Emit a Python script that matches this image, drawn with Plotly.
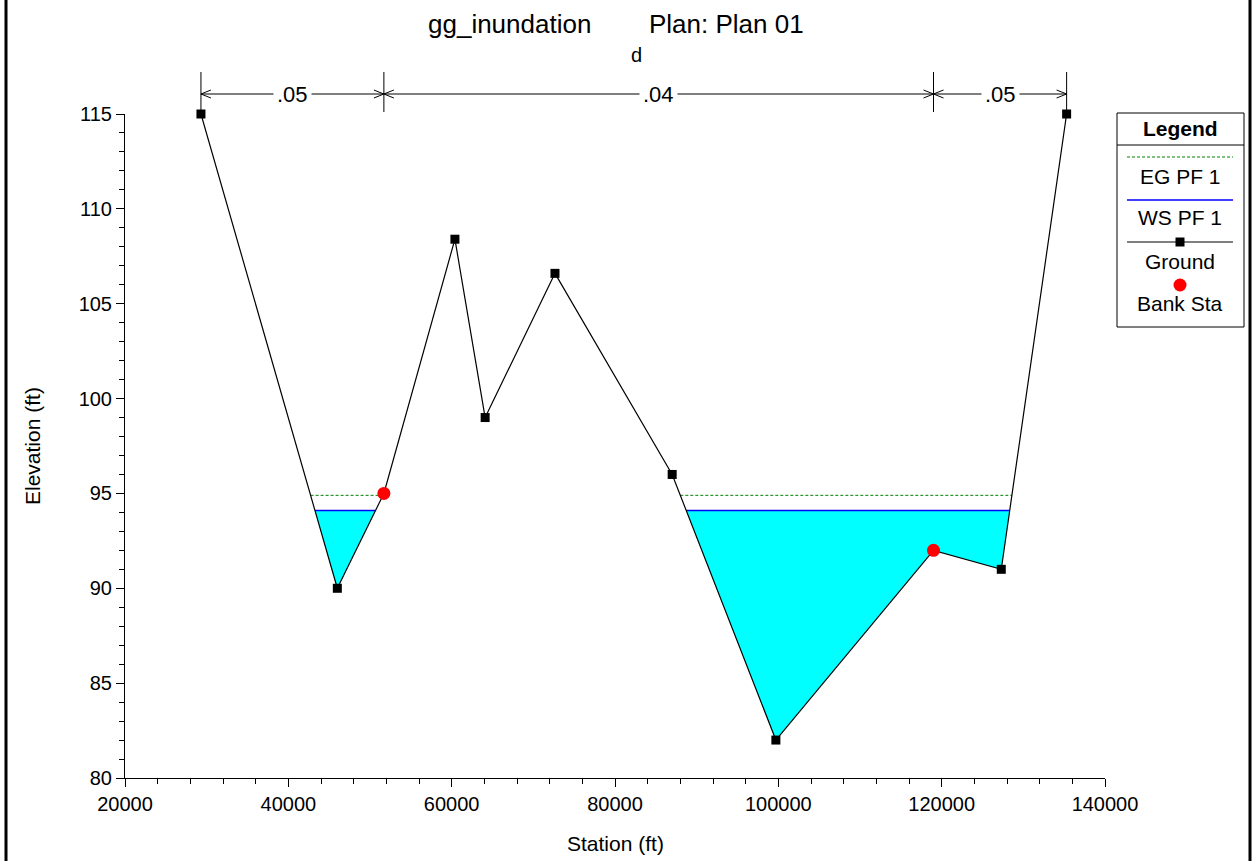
import plotly.graph_objects as go

# ---------------- data ----------------
stations = [29300, 46000, 51700, 60400, 64100, 72650, 87000, 99700, 119000, 127300, 135300]
elevations = [115, 90, 95, 108.4, 99, 106.6, 96, 82, 92, 91, 115]
bank_idx = [2, 8]
ws_elev = 94.1
eg_elev = 94.9
n_values = [".05", ".04", ".05"]
n_breaks = [29300, 51700, 119000, 135300]
x_range = [20000, 140000]
y_range = [80, 115]

FONT = "Liberation Sans, Arial, sans-serif"
W, H = 1255, 861
L, R, T, B = 125, 1105, 114, 778


def px(x):
    return (x - L) / (R - L)


def py(y):
    return (B - y) / (B - T)


def crossings(xs, zs, level):
    out = []
    for i in range(len(xs) - 1):
        z0, z1 = zs[i], zs[i + 1]
        if (z0 - level) * (z1 - level) < 0:
            t = (level - z0) / (z1 - z0)
            out.append(xs[i] + t * (xs[i + 1] - xs[i]))
    return out


def level_line(level):
    c = crossings(stations, elevations, level)
    lx, ly = [], []
    for a, b in zip(c[0::2], c[1::2]):
        lx += [a, b, None]
        ly += [level, level, None]
    return lx, ly, c


fig = go.Figure()

# water fill
_, _, wc = level_line(ws_elev)
fx, fy = [], []
for a, b in zip(wc[0::2], wc[1::2]):
    fx += [a] + [s for s in stations if a < s < b] + [b, a, None]
    fy += [ws_elev] + [e for s, e in zip(stations, elevations) if a < s < b] + [ws_elev, ws_elev, None]
fig.add_trace(go.Scatter(x=fx, y=fy, mode="none", fill="toself", fillcolor="#00FFFF",
                         hoverinfo="skip", showlegend=False))

egx, egy, _ = level_line(eg_elev)
fig.add_trace(go.Scatter(x=egx, y=egy, mode="lines", name="EG PF 1",
                         line=dict(color="#008000", width=1, dash="3px,2px"), showlegend=False))
wsx, wsy, _ = level_line(ws_elev)
fig.add_trace(go.Scatter(x=wsx, y=wsy, mode="lines", name="WS PF 1",
                         line=dict(color="#0000FF", width=1.5), showlegend=False))
fig.add_trace(go.Scatter(x=stations, y=elevations, mode="lines+markers", name="Ground",
                         line=dict(color="black", width=1.2), cliponaxis=False,
                         marker=dict(symbol="square", size=9, color="black"), showlegend=False))
fig.add_trace(go.Scatter(x=[stations[i] for i in bank_idx], y=[elevations[i] for i in bank_idx],
                         mode="markers", name="Bank Sta", cliponaxis=False,
                         marker=dict(symbol="circle", size=13, color="#FF0000"), showlegend=False))

shapes = []
annotations = []

# Manning's n bar
y_bar = py(94)
for s in n_breaks:
    shapes.append(dict(type="line", xref="x", yref="paper", x0=s, x1=s, y0=py(112), y1=py(72),
                       line=dict(color="black", width=1)))
shapes.append(dict(type="line", xref="x", yref="paper", x0=n_breaks[0], x1=n_breaks[-1],
                   y0=y_bar, y1=y_bar, line=dict(color="black", width=1)))
for i, s in enumerate(n_breaks):
    if i > 0:
        shapes.append(dict(type="path", xref="x", yref="paper", xsizemode="pixel", ysizemode="pixel",
                           xanchor=s, yanchor=y_bar, path="M -10,4 L 0,0 L -10,-4",
                           line=dict(color="black", width=1)))
    if i < len(n_breaks) - 1:
        shapes.append(dict(type="path", xref="x", yref="paper", xsizemode="pixel", ysizemode="pixel",
                           xanchor=s, yanchor=y_bar, path="M 10,4 L 0,0 L 10,-4",
                           line=dict(color="black", width=1)))
for i, n in enumerate(n_values):
    annotations.append(dict(text=n, xref="x", yref="paper", x=(n_breaks[i] + n_breaks[i + 1]) / 2,
                            y=y_bar, xanchor="center", yanchor="middle", showarrow=False,
                            bgcolor="white", borderpad=3,
                            font=dict(family=FONT, size=22, color="black")))

# titles
annotations.append(dict(text="gg_inundation", xref="paper", yref="paper", x=px(593), y=py(24),
                        xanchor="right", yanchor="middle", showarrow=False,
                        font=dict(family=FONT, size=26, color="black")))
annotations.append(dict(text="Plan: Plan 01", xref="paper", yref="paper", x=px(647), y=py(24),
                        xanchor="left", yanchor="middle", showarrow=False,
                        font=dict(family=FONT, size=26, color="black")))
annotations.append(dict(text="d", xref="paper", yref="paper", x=px(636), y=py(55),
                        xanchor="center", yanchor="middle", showarrow=False,
                        font=dict(family=FONT, size=20, color="black")))
annotations.append(dict(text="Elevation (ft)", xref="paper", yref="paper", x=px(32), y=0.5,
                        textangle=-90, xanchor="center", yanchor="middle", showarrow=False,
                        font=dict(family=FONT, size=21, color="black")))
annotations.append(dict(text="Station (ft)", xref="paper", yref="paper", x=0.5, y=py(843),
                        xanchor="center", yanchor="middle", showarrow=False,
                        font=dict(family=FONT, size=21, color="black")))

# custom legend
lx0, lx1 = px(1117), px(1244)
shapes.append(dict(type="rect", xref="paper", yref="paper", x0=lx0, x1=lx1, y0=py(327), y1=py(113),
                   line=dict(color="black", width=1), fillcolor="white", layer="below"))
shapes.append(dict(type="line", xref="paper", yref="paper", x0=lx0, x1=lx1, y0=py(145), y1=py(145),
                   line=dict(color="black", width=1)))
annotations.append(dict(text="<b>Legend</b>", xref="paper", yref="paper", x=px(1180), y=py(128),
                        xanchor="center", yanchor="middle", showarrow=False,
                        font=dict(family=FONT, size=21, color="black")))
sx0, sx1, scx = px(1127), px(1233), px(1180)
shapes.append(dict(type="line", xref="paper", yref="paper", x0=sx0, x1=sx1, y0=py(157), y1=py(157),
                   line=dict(color="#008000", width=1, dash="3px,2px")))
shapes.append(dict(type="line", xref="paper", yref="paper", x0=sx0, x1=sx1, y0=py(200), y1=py(200),
                   line=dict(color="#0000FF", width=1.5)))
shapes.append(dict(type="line", xref="paper", yref="paper", x0=sx0, x1=sx1, y0=py(242), y1=py(242),
                   line=dict(color="black", width=1.2)))
shapes.append(dict(type="rect", xref="paper", yref="paper", xsizemode="pixel", ysizemode="pixel",
                   xanchor=scx, yanchor=py(242), x0=-4.5, x1=4.5, y0=-4.5, y1=4.5,
                   line=dict(width=0), fillcolor="black"))
shapes.append(dict(type="circle", xref="paper", yref="paper", xsizemode="pixel", ysizemode="pixel",
                   xanchor=scx, yanchor=py(285), x0=-6.5, x1=6.5, y0=-6.5, y1=6.5,
                   line=dict(width=0), fillcolor="#FF0000"))
for txt, yy in [("EG PF 1", 177), ("WS PF 1", 218), ("Ground", 261), ("Bank Sta", 303)]:
    annotations.append(dict(text=txt, xref="paper", yref="paper", x=scx, y=py(yy),
                            xanchor="center", yanchor="middle", showarrow=False,
                            font=dict(family=FONT, size=21, color="black")))

# outer frame
for xx in [6, 1250]:
    shapes.append(dict(type="line", xref="paper", yref="paper", x0=px(xx), x1=px(xx),
                       y0=py(H + 20), y1=py(-20), line=dict(color="black", width=3)))

fig.update_layout(
    width=W, height=H,
    margin=dict(l=L, r=W - R, t=T, b=H - B),
    paper_bgcolor="white", plot_bgcolor="white",
    showlegend=False,
    font=dict(family=FONT, size=20, color="black"),
    shapes=shapes, annotations=annotations,
)
fig.update_xaxes(range=x_range, dtick=20000, tick0=0, tickformat="d", showgrid=False, zeroline=False,
                 showline=True, linecolor="black", linewidth=1, ticks="outside", ticklen=8,
                 tickcolor="black", tickfont=dict(family=FONT, size=20, color="black"),
                 minor=dict(dtick=4000, ticks="outside", ticklen=5, tickcolor="black", showgrid=False))
fig.update_yaxes(range=y_range, dtick=5, tick0=0, showgrid=False, zeroline=False,
                 showline=True, linecolor="black", linewidth=1, ticks="outside", ticklen=8,
                 tickcolor="black", tickfont=dict(family=FONT, size=20, color="black"),
                 minor=dict(dtick=1, ticks="outside", ticklen=5, tickcolor="black", showgrid=False))

fig.write_html("out.html", config={"displayModeBar": False},
               post_script="document.body.style.margin='0';document.body.style.overflow='hidden';")
